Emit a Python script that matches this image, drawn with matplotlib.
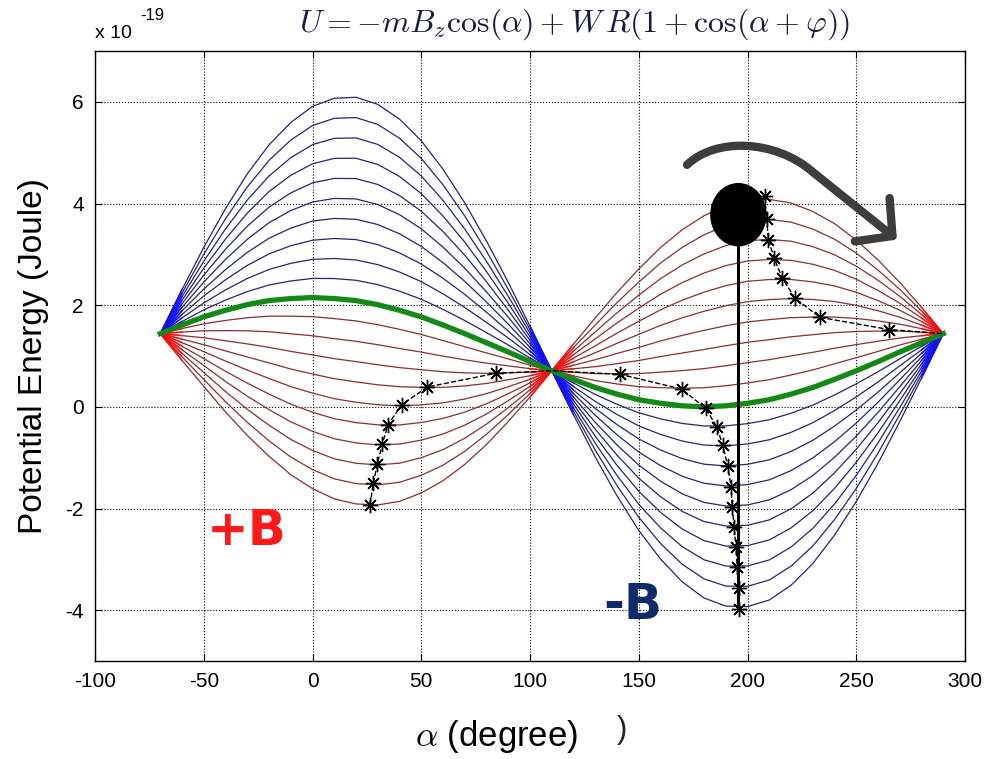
import numpy as np
import matplotlib
matplotlib.use('Agg')
import matplotlib.pyplot as plt
from matplotlib.patches import Ellipse, FancyArrowPatch
from matplotlib.path import Path

plt.rcParams['axes.unicode_minus'] = False
plt.rcParams['font.family'] = ['Liberation Sans', 'DejaVu Sans']
plt.rcParams['mathtext.fontset'] = 'cm'

# angle samples (degree) and energies in units of 1e-19 J
alpha_deg = np.arange(-70, 291, 10)
u_zero_field = [1.44, 1.61, 1.77, 1.90, 2.01, 2.09, 2.13, 2.15, 2.13, 2.09,
                2.01, 1.90, 1.77, 1.61, 1.44, 1.26, 1.08, 0.89, 0.71, 0.54,
                0.38, 0.25, 0.14, 0.07, 0.02, 0.00, 0.02, 0.07, 0.14, 0.25,
                0.38, 0.54, 0.71, 0.89, 1.08, 1.26, 1.44]
# change of U for one unit of field step
u_per_step = [0.0, 0.174, 0.342, 0.5, 0.643, 0.766, 0.866, 0.94, 0.985, 1.0,
              0.985, 0.94, 0.866, 0.766, 0.643, 0.5, 0.342, 0.174, 0.0, -0.174,
              -0.342, -0.5, -0.643, -0.766, -0.866, -0.94, -0.985, -1.0, -0.985, -0.94,
              -0.866, -0.766, -0.643, -0.5, -0.342, -0.174, 0.0]
field_steps = [-4.0, -3.6, -3.2, -2.8, -2.4, -2.0, -1.6, -1.2, -0.8, -0.4, 0.0,
               0.4, 0.8, 1.2, 1.6, 2.0, 2.4, 2.8, 3.2, 3.6, 4.0]

# extrema marked with stars
left_min_alpha = [26.4, 28.0, 29.8, 32.1, 34.7, 41.0, 52.8, 84.2]
left_min_u = [-1.93, -1.50, -1.12, -0.73, -0.35, 0.04, 0.39, 0.66]
right_min_alpha = [141.4, 169.7, 180.8, 185.8, 188.6, 190.9, 192.4, 193.0,
                   193.8, 194.7, 195.3, 196.1, 196.1]
right_min_u = [0.64, 0.35, -0.03, -0.39, -0.75, -1.16, -1.57, -1.97,
               -2.36, -2.76, -3.16, -3.57, -3.98]
right_max_alpha = [208.0, 208.8, 209.6, 212.2, 216.0, 221.8, 233.3, 265.2]
right_max_u = [4.14, 3.69, 3.29, 2.93, 2.53, 2.14, 1.76, 1.52]
node_alpha = [-70, 110, 290]
node_u = [1.44, 0.71, 1.44]

ball_alpha, ball_u = 195.8, 3.78

fig = plt.figure(figsize=(9.96, 7.59), dpi=100)
ax = fig.add_axes([0.0954, 0.1291, 0.8735, 0.8037])

u0 = np.array(u_zero_field)
du = np.array(u_per_step)
for k in field_steps:
    u = u0 + k * du
    if k == 0:
        continue
    dark = '#252575' if k > 0 else '#8e2e2e'
    bright = '#1010ff' if k > 0 else '#ff1010'
    ax.plot(alpha_deg, u, color=dark, lw=0.9, zorder=2)
    # bright colour where the curves crowd together at the nodes
    for a, b in [(0, 2), (17, 20), (35, 37)]:
        ax.plot(alpha_deg[a:b], u[a:b], color=bright, lw=1.0, zorder=2)
ax.plot(alpha_deg, u0, color='#138a13', lw=3.8, zorder=3)

# dashed paths through the extrema
chain_a = left_min_alpha + [node_alpha[1]] + right_min_alpha
chain_u = left_min_u + [node_u[1]] + right_min_u
ax.plot(chain_a, chain_u, 'k--', lw=1.0, zorder=4)
ax.plot(right_max_alpha + [node_alpha[2]], right_max_u + [node_u[2]], 'k--', lw=1.0, zorder=4)
star_a = left_min_alpha + right_min_alpha + right_max_alpha
star_u = left_min_u + right_min_u + right_max_u
ax.plot(star_a, star_u, ls='none', marker=(8, 2, 0), ms=11, mec='k', mew=1.0, zorder=5)

# pendulum ball
ax.plot([ball_alpha, ball_alpha], [min(right_min_u), ball_u], color='k', lw=2.2, zorder=6)
ax.add_patch(Ellipse((ball_alpha, ball_u), 25.3, 1.22, color='k', zorder=7))

# rolling arrow
verts = [(172.2, 4.76), (185.1, 5.30), (212.6, 5.26), (229.7, 4.63), (268.7, 3.29)]
codes = [Path.MOVETO, Path.CURVE4, Path.CURVE4, Path.CURVE4, Path.LINETO]
arrow = FancyArrowPatch(path=Path(verts, codes), arrowstyle='->,head_length=0.75,head_width=0.8',
                        mutation_scale=25, lw=6, color='#3d3d3d', zorder=8)
ax.add_patch(arrow)

ax.text(-30.1, -2.44, '+B', color='#ff1a1a', fontsize=36, fontweight='bold',
        family='DejaVu Sans', ha='center', va='center')
ax.text(147.4, -3.9, '-B', color='#0d2b6b', fontsize=36, fontweight='bold',
        family='DejaVu Sans', ha='center', va='center')

ax.set_xlim(-100, 300)
ax.set_ylim(-5, 7)
ax.set_xticks(np.arange(-100, 301, 50))
ax.set_yticks(np.arange(-4, 7, 2))
ax.tick_params(direction='in', top=True, right=True, length=5, labelsize=15, pad=8)
ax.grid(True, color='k', ls=':', lw=0.8)
for s in ax.spines.values():
    s.set_linewidth(1.0)

ax.set_ylabel('Potential Energy (Joule)', fontsize=24, labelpad=12)
fig.text(497 / 996, 1 - 746 / 759, r'$\alpha$ (degree)', fontsize=25,
         ha='center', va='baseline')

fig.text(95 / 996, 1 - 38 / 759, 'x 10', fontsize=14, va='baseline', ha='left')
fig.text(140 / 996, 1 - 20 / 759, '-19', fontsize=12, va='baseline', ha='left')
fig.text(575 / 996, 1 - 32 / 759,
         r'$U = -mB_z\cos(\alpha) + W\,R(1+\cos(\alpha+\varphi))$',
         fontsize=23, color='#1a1a40', ha='center', va='baseline')
fig.text(622 / 996, 1 - 738 / 759, ')', fontsize=22, color='#222222', ha='center', va='baseline')

fig.savefig('out.png', dpi=100)
